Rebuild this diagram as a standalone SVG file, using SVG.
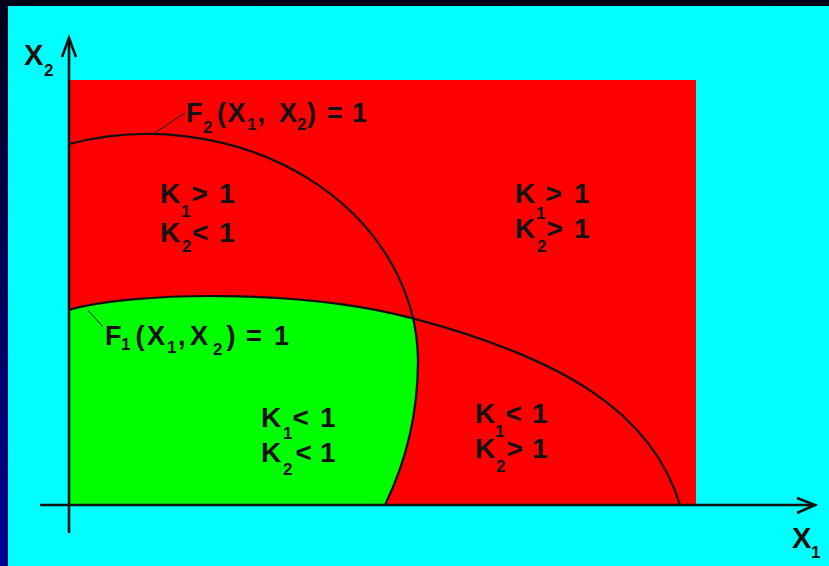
<svg xmlns="http://www.w3.org/2000/svg" width="829" height="566" viewBox="0 0 829 566">
<defs>
<linearGradient id="bg" x1="0" y1="0" x2="0" y2="1">
<stop offset="0" stop-color="#000018"/>
<stop offset="0.5" stop-color="#00005a"/>
<stop offset="1" stop-color="#000090"/>
</linearGradient>
<style>
.t{font-family:"Liberation Sans",Arial,sans-serif;font-weight:bold;fill:#111;}
.k{font-size:28px;}
.f{font-size:27px;}
.s{font-size:17px;}
.ax{stroke:#111;stroke-width:2.6;fill:none;}
.cv{stroke:#111;stroke-width:2.2;fill:none;}
.ld{stroke:#111;stroke-width:1;fill:none;}
</style>
</defs>
<rect x="0" y="0" width="829" height="566" fill="url(#bg)"/>
<rect x="8" y="6" width="821" height="560" fill="#00ffff"/>
<g id="regions">
<rect id="red-region" x="69" y="80" width="627" height="425" fill="#ff0000"/>
<path id="green-region" fill="#00ff00" d="M69,310 C130,292 300,288 413,318.4 A270,228 0 0 1 418,360 A270,302 0 0 1 385,505 L69,505 Z"/>
</g>
<g id="connectors">
<path id="curve-f2" class="cv" d="M69,144 A270,228 0 0 1 418,360 A270,302 0 0 1 385,505"/>
<path id="curve-f1" class="cv" d="M69,310 C130,292 300,288 413,318.4 C562,358 652,412 680,505"/>
<line class="ld" x1="153" y1="134" x2="185" y2="113"/>
<line class="ld" x1="88" y1="310" x2="103" y2="327"/>
<line class="ax" x1="69" y1="533" x2="69" y2="38"/>
<line class="ax" x1="40" y1="505" x2="815" y2="505"/>
<polyline class="ax" stroke-width="2" points="62,57 69,38 76,57"/>
<polyline class="ax" stroke-width="2" points="797,498 815,505 797,513"/>
</g>
<g id="axis-x2"><text class="t" style="font-size:29px" y="65"><tspan x="24">X</tspan><tspan class="s" x="44" y="76">2</tspan></text></g>
<g id="axis-x1"><text class="t" style="font-size:29px" y="548"><tspan x="792">X</tspan><tspan class="s" x="811" y="558">1</tspan></text></g>
<g id="label-f2"><text class="t f" y="122"><tspan x="186">F</tspan><tspan class="s" x="203" y="133">2</tspan><tspan x="217" y="122">(</tspan><tspan x="227.5">X</tspan><tspan class="s" x="247" y="130">1</tspan><tspan x="257.5" y="122">,</tspan><tspan x="279">X</tspan><tspan class="s" x="297" y="130">2</tspan><tspan x="307" y="122">)</tspan><tspan x="327">=</tspan><tspan x="352">1</tspan></text></g>
<g id="label-f1"><text class="t f" y="345"><tspan x="105">F</tspan><tspan class="s" x="121" y="350">1</tspan><tspan x="135.5" y="345">(</tspan><tspan x="147">X</tspan><tspan class="s" x="167" y="353">1</tspan><tspan x="178" y="345">,</tspan><tspan x="190">X</tspan><tspan class="s" x="213" y="355">2</tspan><tspan x="226.5" y="345">)</tspan><tspan x="246">=</tspan><tspan x="274">1</tspan></text></g>
<g id="region-tl">
<text class="t k" y="203"><tspan x="160">K</tspan><tspan class="s" x="181" y="217">1</tspan><tspan x="191.5" y="203">&gt;</tspan><tspan x="219">1</tspan></text>
<text class="t k" y="242"><tspan x="160">K</tspan><tspan class="s" x="182" y="252">2</tspan><tspan x="192" y="242">&lt;</tspan><tspan x="219">1</tspan></text>
</g>
<g id="region-tr">
<text class="t k" y="203"><tspan x="515">K</tspan><tspan class="s" x="536" y="219">1</tspan><tspan x="545.5" y="203">&gt;</tspan><tspan x="574">1</tspan></text>
<text class="t k" y="238"><tspan x="515">K</tspan><tspan class="s" x="537" y="252">2</tspan><tspan x="546.5" y="238">&gt;</tspan><tspan x="574">1</tspan></text>
</g>
<g id="region-bm">
<text class="t k" y="427"><tspan x="261">K</tspan><tspan class="s" x="283" y="439">1</tspan><tspan x="292.5" y="427">&lt;</tspan><tspan x="320">1</tspan></text>
<text class="t k" y="462"><tspan x="261">K</tspan><tspan class="s" x="283" y="475">2</tspan><tspan x="295.5" y="462">&lt;</tspan><tspan x="320">1</tspan></text>
</g>
<g id="region-br">
<text class="t k" y="423"><tspan x="475">K</tspan><tspan class="s" x="495" y="437">1</tspan><tspan x="505.5" y="423">&lt;</tspan><tspan x="532">1</tspan></text>
<text class="t k" y="458"><tspan x="475">K</tspan><tspan class="s" x="496" y="472">2</tspan><tspan x="506.5" y="458">&gt;</tspan><tspan x="532">1</tspan></text>
</g>
</svg>
